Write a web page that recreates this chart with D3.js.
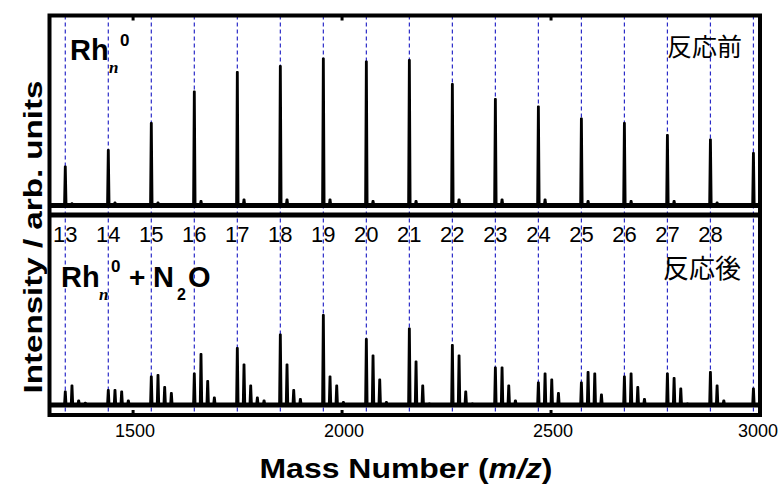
<!DOCTYPE html>
<html>
<head>
<meta charset="utf-8">
<script src="https://cdn.jsdelivr.net/npm/d3@7/dist/d3.min.js"></script>
<style>
  html, body { margin: 0; padding: 0; background: #fff; }
  svg { display: block; }
</style>
</head>
<body>
<svg id="chart" width="779" height="484"></svg>
<script>
// Rh_n cluster mass spectra before and after reaction with N2O

const RH_MASS = 102.906;   // Rh atomic mass
const O_MASS = 15.995;     // O atomic mass

// cluster sizes marked with guide lines
const clusterSizes = [13, 14, 15, 16, 17, 18, 19, 20, 21, 22, 23, 24, 25, 26, 27, 28, 29];
// sizes written as labels in the lower panel
const sizeLabels = [13, 14, 15, 16, 17, 18, 19, 20, 21, 22, 23, 24, 25, 26, 27, 28];

// upper panel: bare Rh_n intensities (arb. units)
const bareIntensity = [26, 37, 55, 76, 89, 93, 98, 96, 97, 81, 71, 66, 58, 55, 47, 44, 35];
// upper panel: weak satellite peaks (Rh_nO) next to each bare cluster
const bareSatellite = [1.5, 2, 2, 3, 4, 4, 4, 3, 3, 4, 4, 4, 3, 3, 3, 2, 1];

// lower panel: Rh_nO_k intensities after N2O, k = 0..4
const oxideK0 = [9, 10, 19, 21, 38, 47, 60, 44, 51, 40, 25, 15, 15, 19, 21, 22, 11];
const oxideK1 = [13, 10, 20, 34, 27, 27, 19, 33, 29, 33, 25, 21, 22, 21, 18, 13, 0];
const oxideK2 = [3, 9, 12, 16, 13, 10, 13, 17, 13, 9, 13, 17, 21, 12, 11, 3, 0];
const oxideK3 = [1.5, 3, 8, 5, 5, 4, 2, 2, 1, 1, 3, 8, 7, 4, 1, 0, 0];
const oxideK4 = [0, 0, 0, 0, 3, 0, 0, 0, 0, 0, 0, 0, 0, 0, 0, 0, 0];

// x axis ticks
const xTicks = [1500, 2000, 2500, 3000];

const svg = d3.select("#chart");

const left = 49.5, right = 760;
const topPanel = { top: 15.5, bottom: 214 };
const botPanel = { top: 216, bottom: 415 };

const x = d3.scaleLinear().domain([1300, 3000]).range([left, right]);
const yTop = d3.scaleLinear().domain([-5.67, 126.7]).range([topPanel.bottom, topPanel.top]);
const yBot = d3.scaleLinear().domain([-6.67, 126]).range([botPanel.bottom, botPanel.top]);

const defs = svg.append("defs");
defs.append("clipPath").attr("id", "clipTop").append("rect")
  .attr("x", left).attr("y", topPanel.top).attr("width", right - left).attr("height", topPanel.bottom - topPanel.top);
defs.append("clipPath").attr("id", "clipBot").append("rect")
  .attr("x", left).attr("y", botPanel.top).attr("width", right - left).attr("height", botPanel.bottom - botPanel.top);

// guide lines at each Rh_n mass
svg.append("g").selectAll("line").data(clusterSizes).join("line")
  .attr("x1", n => x(n * RH_MASS)).attr("x2", n => x(n * RH_MASS))
  .attr("y1", topPanel.top).attr("y2", botPanel.bottom)
  .attr("stroke", "#2b2bc8").attr("stroke-width", 1.2)
  .attr("stroke-dasharray", "4,3");

// peak outline builder
function peakPath(y, mass, h) {
  const pts = [[mass - 2.8, 0], [mass - 1.0, h], [mass + 1.0, h], [mass + 2.8, 0]];
  return d3.line().x(p => x(p[0])).y(p => y(p[1]))(pts);
}

function drawPeaks(g, y, peaks) {
  g.selectAll("path.peak").data(peaks.filter(p => p.h > 0)).join("path")
    .attr("class", "peak")
    .attr("d", p => peakPath(y, p.m, p.h))
    .attr("fill", "#000").attr("stroke", "#000").attr("stroke-width", 2)
    .attr("stroke-linejoin", "round");
}

// upper panel
const gTop = svg.append("g").attr("clip-path", "url(#clipTop)");
const topPeaks = [];
clusterSizes.forEach((n, i) => {
  topPeaks.push({ m: n * RH_MASS, h: bareIntensity[i] });
  topPeaks.push({ m: n * RH_MASS + O_MASS, h: bareSatellite[i] });
});
drawPeaks(gTop, yTop, topPeaks);
gTop.append("line").attr("x1", left).attr("x2", right)
  .attr("y1", yTop(0)).attr("y2", yTop(0))
  .attr("stroke", "#000").attr("stroke-width", 5);

// lower panel
const gBot = svg.append("g").attr("clip-path", "url(#clipBot)");
const oxideSeries = [oxideK0, oxideK1, oxideK2, oxideK3, oxideK4];
const botPeaks = [];
clusterSizes.forEach((n, i) => {
  oxideSeries.forEach((s, k) => botPeaks.push({ m: n * RH_MASS + k * O_MASS, h: s[i] }));
});
drawPeaks(gBot, yBot, botPeaks);
gBot.append("line").attr("x1", left).attr("x2", right)
  .attr("y1", yBot(0)).attr("y2", yBot(0))
  .attr("stroke", "#000").attr("stroke-width", 5);

// panel frames
const frame = svg.append("g").attr("fill", "none").attr("stroke", "#000");
frame.append("rect").attr("x", left).attr("y", topPanel.top)
  .attr("width", right - left).attr("height", botPanel.bottom - topPanel.top)
  .attr("stroke-width", 4);
frame.append("line").attr("x1", left).attr("x2", right)
  .attr("y1", (topPanel.bottom + botPanel.top) / 2).attr("y2", (topPanel.bottom + botPanel.top) / 2)
  .attr("stroke-width", 5);

// inward tick marks on top and bottom edges
svg.append("g").selectAll("line.tt").data(xTicks.slice(0, 3)).join("line")
  .attr("x1", d => x(d)).attr("x2", d => x(d))
  .attr("y1", topPanel.top).attr("y2", topPanel.top + 5)
  .attr("stroke", "#000").attr("stroke-width", 3);
svg.append("g").selectAll("line.tb").data(xTicks.slice(0, 3)).join("line")
  .attr("x1", d => x(d)).attr("x2", d => x(d))
  .attr("y1", botPanel.bottom).attr("y2", botPanel.bottom - 5)
  .attr("stroke", "#000").attr("stroke-width", 3);

// x tick labels
svg.append("g").selectAll("text").data(xTicks).join("text")
  .attr("x", d => Math.min(x(d) + 2, 758)).attr("y", 437)
  .attr("text-anchor", "middle")
  .attr("font-family", "'Liberation Sans', Arial, sans-serif")
  .attr("font-size", 18).attr("fill", "#000")
  .text(d => d);

// cluster size labels
svg.append("g").selectAll("text").data(sizeLabels).join("text")
  .attr("x", n => x(n * RH_MASS)).attr("y", 242)
  .attr("text-anchor", "middle")
  .attr("font-family", "'Liberation Sans', Arial, sans-serif")
  .attr("font-size", 22).attr("fill", "#000")
  .text(n => n);

const sans = "'Liberation Sans', Arial, sans-serif";
const serif = "'Liberation Serif', 'Times New Roman', serif";

function put(txt, px, py, size, opts = {}) {
  return svg.append("text").attr("x", px).attr("y", py)
    .attr("font-family", opts.family || sans)
    .attr("font-size", size)
    .attr("font-weight", opts.weight || "bold")
    .attr("font-style", opts.style || "normal")
    .attr("text-anchor", opts.anchor || "start")
    .attr("fill", "#000")
    .text(txt);
}

// species labels
put("Rh", 70, 60, 29);
put("n", 109, 73, 17, { family: serif, style: "italic" });
put("0", 120, 46, 17);

put("Rh", 61, 287, 29);
put("n", 99, 300, 17, { family: serif, style: "italic" });
put("0", 111, 272, 17);
put("+", 129, 287, 28);
put("N", 153, 287, 29);
put("2", 177, 300, 16);
put("O", 188, 287, 29);

// reaction state labels
put("反応前", 667, 56, 25, { family: "'Noto Sans CJK JP', sans-serif", weight: "normal" });
put("反応後", 663, 278, 26, { family: "'Noto Sans CJK JP', sans-serif", weight: "normal" });

// axis titles
const xTitle = svg.append("text").attr("x", 406).attr("y", 478)
  .attr("text-anchor", "middle")
  .attr("font-family", sans).attr("font-size", 27).attr("font-weight", "bold")
  .attr("textLength", 293).attr("lengthAdjust", "spacingAndGlyphs")
  .attr("fill", "#000");
xTitle.append("tspan").text("Mass Number (");
xTitle.append("tspan").attr("font-style", "italic").text("m/z");
xTitle.append("tspan").text(")");

svg.append("text")
  .attr("transform", "translate(42,237) rotate(-90)")
  .attr("text-anchor", "middle")
  .attr("font-family", sans).attr("font-size", 25).attr("font-weight", "bold")
  .attr("textLength", 313).attr("lengthAdjust", "spacingAndGlyphs")
  .attr("fill", "#000")
  .text("Intensity / arb. units");
</script>
</body>
</html>
